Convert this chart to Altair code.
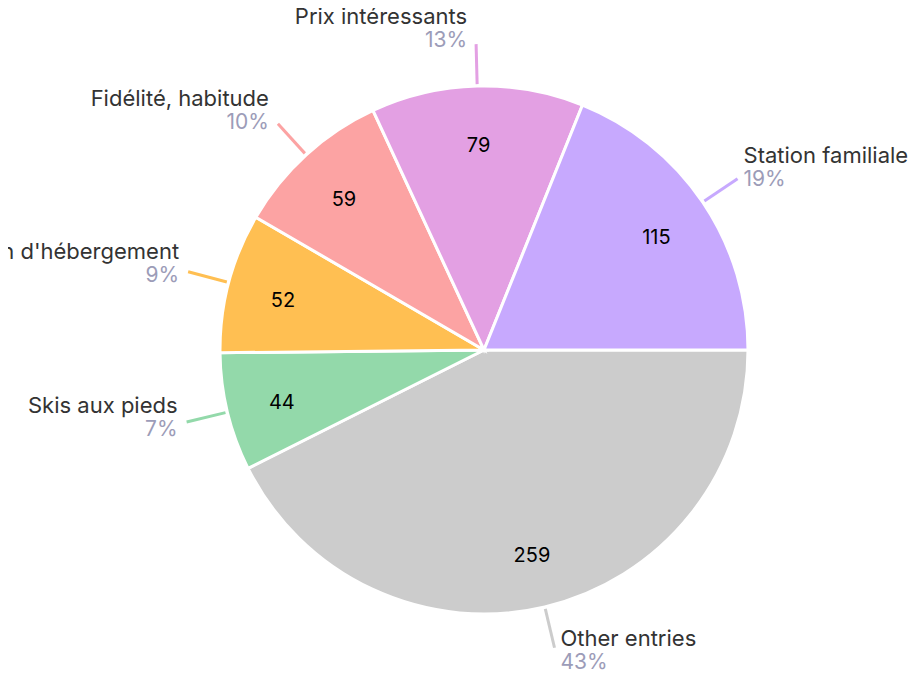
import math
import altair as alt
import pandas as pd

categories = ["Other entries", "Skis aux pieds", "Location d'hébergement",
              "Fidélité, habitude", "Prix intéressants", "Station familiale"]
values = [259, 44, 52, 59, 79, 115]
colors = ["#cccccc", "#93d9aa", "#ffbf52", "#fca3a3", "#e3a0e3", "#c7a9fe"]

df = pd.DataFrame({"cat": categories, "val": values, "idx": list(range(len(values)))})

CX, CY = 476, 342
R_OUT = 264
R_L0, R_L1 = 266, 306
R_IN = 208
FONT = "Inter"

color = alt.Color("cat:N", scale=alt.Scale(domain=categories, range=colors), legend=None)

pie = alt.Chart(df).mark_arc(outerRadius=R_OUT, stroke="white", strokeWidth=3).encode(
    x=alt.value(CX), y=alt.value(CY),
    theta=alt.Theta("val:Q", stack=True,
                    scale=alt.Scale(range=[math.pi / 2, math.pi / 2 + 2 * math.pi])),
    color=color,
    order=alt.Order("idx:Q"),
)

base = alt.Chart(df).transform_joinaggregate(
    total="sum(val)"
).transform_window(
    cum="sum(val)", sort=[alt.SortField("idx")], frame=[None, 0]
).transform_calculate(
    tv="PI/2 + 2*PI*(datum.cum - datum.val/2)/datum.total",
).transform_calculate(
    s="sin(datum.tv)", c="cos(datum.tv)",
    pct="format(round(datum.val/datum.total*100), 'd') + '%'",
).transform_calculate(
    x0=f"{CX} + {R_L0}*datum.s", y0=f"{CY} - {R_L0}*datum.c",
    x1=f"{CX} + {R_L1}*datum.s", y1=f"{CY} - {R_L1}*datum.c",
    xi=f"{CX} + {R_IN}*datum.s", yi=f"{CY} - {R_IN}*datum.c + 4",
).transform_calculate(
    ypct="datum.y1 + 6 - 9*datum.c",
    right="datum.s >= 0",
).transform_calculate(
    yname="datum.ypct - 24",
    xt="datum.right ? datum.x1 + 6 : datum.x1 - 9",
)

lines = base.mark_rule(strokeWidth=3).encode(
    x=alt.X("x0:Q", scale=None), y=alt.Y("y0:Q", scale=None),
    x2="x1:Q", y2="y1:Q",
    color=color,
)

inner = base.mark_text(font=FONT, fontSize=20, color="#000000", baseline="middle", align="center").encode(
    x=alt.X("xi:Q", scale=None), y=alt.Y("yi:Q", scale=None),
    text="val:Q",
)

def side_labels(is_right):
    align = "left" if is_right else "right"
    b = base.transform_filter("datum.right" if is_right else "!datum.right")
    name = b.mark_text(font=FONT, fontSize=22, color="#333333", baseline="middle", align=align).encode(
        x=alt.X("xt:Q", scale=None), y=alt.Y("yname:Q", scale=None), text="cat:N")
    pct = b.mark_text(font=FONT, fontSize=21, color="#9c9cb8", baseline="middle", align=align).encode(
        x=alt.X("xt:Q", scale=None), y=alt.Y("ypct:Q", scale=None), text="pct:N")
    return name + pct

chart = alt.layer(pie, lines, inner, side_labels(True), side_labels(False)).properties(
    width=903, height=666, padding=0,
    autosize=alt.AutoSizeParams(type="none"),
).configure_view(stroke=None)

chart.save("out.html", embed_options={"renderer": "svg", "actions": False})
